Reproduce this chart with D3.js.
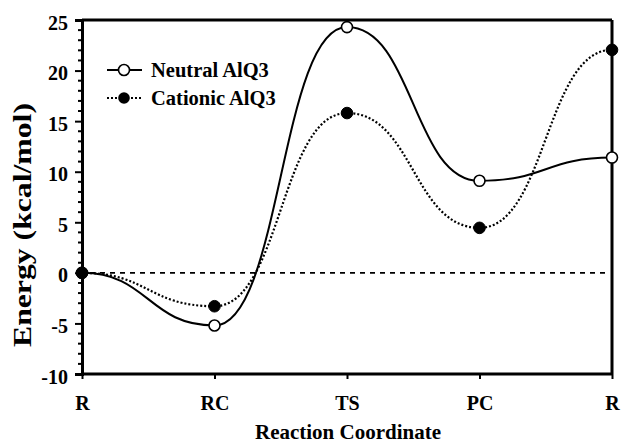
<!DOCTYPE html>
<html>
<head>
<meta charset="utf-8">
<script src="https://cdn.jsdelivr.net/npm/d3@7"></script>
<style>
  html, body { margin: 0; padding: 0; background: #fff; }
  svg text { font-family: "Liberation Serif", "Times New Roman", serif; font-weight: bold; fill: #000; }
</style>
</head>
<body>
<svg id="chart" width="621" height="444"></svg>
<script>
const categories = ["R", "RC", "TS", "PC", "R "];
const categoryLabels = ["R", "RC", "TS", "PC", "R"];
const neutral = [0, -5.2, 24.3, 9.1, 11.4];
const cationic = [0, -3.3, 15.8, 4.45, 22.05];
const yTicks = [-10, -5, 0, 5, 10, 15, 20, 25];
const seriesNames = ["Neutral AlQ3", "Cationic AlQ3"];

const svg = d3.select("#chart");
const pL = 82, pR = 612, pT = 20, pB = 374;

const x = d3.scalePoint().domain(categories).range([pL, pR]);
const y = d3.scaleLinear().domain([-10, 25]).range([pB, pT]);

// zero dashed line
svg.append("line")
  .attr("x1", x(categories[0]) + 8).attr("x2", pR - 6)
  .attr("y1", y(0)).attr("y2", y(0))
  .attr("stroke", "#000").attr("stroke-width", 1.6)
  .attr("stroke-dasharray", "5,5");

// frame top and right
svg.append("line").attr("x1", pL).attr("x2", pR).attr("y1", pT).attr("y2", pT)
  .attr("stroke", "#000").attr("stroke-width", 3);
svg.append("line").attr("x1", pR).attr("x2", pR).attr("y1", pT).attr("y2", pB)
  .attr("stroke", "#000").attr("stroke-width", 3);

// Y axis
const yAxis = d3.axisLeft(y).tickValues(yTicks).tickSize(7).tickPadding(7).tickFormat(d => String(d));
const yg = svg.append("g").attr("transform", `translate(${pL},0)`).call(yAxis);
yg.select(".domain").attr("stroke-width", 3);
yg.selectAll(".tick line").attr("stroke-width", 2);
yg.selectAll("text").style("font-size", "20px").attr("dy", "0.45em");
// minor ticks
const minor = d3.range(-10, 26, 1).filter(v => v % 5 !== 0);
svg.append("g").selectAll("line").data(minor).join("line")
  .attr("x1", pL - 4).attr("x2", pL)
  .attr("y1", d => y(d)).attr("y2", d => y(d))
  .attr("stroke", "#000").attr("stroke-width", 2);

// X axis
const xAxis = d3.axisBottom(x).tickSize(5).tickPadding(17).tickFormat((d, i) => categoryLabels[i]);
const xg = svg.append("g").attr("transform", `translate(0,${pB})`).call(xAxis);
xg.select(".domain").attr("stroke-width", 3).attr("d", `M${pL},0H${pR}`);
xg.selectAll(".tick line").attr("stroke-width", 2);
xg.selectAll("text").style("font-size", "20px");

// axis titles
svg.append("text").attr("x", 348).attr("y", 439)
  .attr("text-anchor", "middle").style("font-size", "21px").text("Reaction Coordinate");
svg.append("text").attr("transform", `translate(31,225) rotate(-90)`)
  .attr("text-anchor", "middle").style("font-size", "26px")
  .attr("textLength", 244).attr("lengthAdjust", "spacingAndGlyphs")
  .text("Energy (kcal/mol)");

// lines
const line = d3.line()
  .x((d, i) => x(categories[i]))
  .y(d => y(d))
  .curve(d3.curveBumpX);

svg.append("path").datum(cationic).attr("d", line)
  .attr("fill", "none").attr("stroke", "#000").attr("stroke-width", 2.2)
  .attr("stroke-dasharray", "2,2");
svg.append("path").datum(neutral).attr("d", line)
  .attr("fill", "none").attr("stroke", "#000").attr("stroke-width", 2);

// markers
svg.append("g").selectAll("circle").data(neutral).join("circle")
  .attr("cx", (d, i) => x(categories[i])).attr("cy", d => y(d)).attr("r", 5.5)
  .attr("fill", "#fff").attr("stroke", "#000").attr("stroke-width", 1.6);
svg.append("g").selectAll("circle").data(cationic).join("circle")
  .attr("cx", (d, i) => x(categories[i])).attr("cy", d => y(d)).attr("r", 5.8)
  .attr("fill", "#000").attr("stroke", "#000").attr("stroke-width", 1);

// legend
const lg = svg.append("g");
const legendY = [70, 98];
lg.append("line").attr("x1", 107).attr("x2", 142).attr("y1", legendY[0]).attr("y2", legendY[0])
  .attr("stroke", "#000").attr("stroke-width", 2);
lg.append("circle").attr("cx", 124).attr("cy", legendY[0]).attr("r", 5.5)
  .attr("fill", "#fff").attr("stroke", "#000").attr("stroke-width", 1.6);
lg.append("line").attr("x1", 107).attr("x2", 142).attr("y1", legendY[1]).attr("y2", legendY[1])
  .attr("stroke", "#000").attr("stroke-width", 2.2).attr("stroke-dasharray", "2,2");
lg.append("circle").attr("cx", 124).attr("cy", legendY[1]).attr("r", 5.8)
  .attr("fill", "#000");
seriesNames.forEach((n, i) => {
  lg.append("text").attr("x", 151).attr("y", legendY[i] + 7).style("font-size", "20.5px").text(n);
});
</script>
</body>
</html>
